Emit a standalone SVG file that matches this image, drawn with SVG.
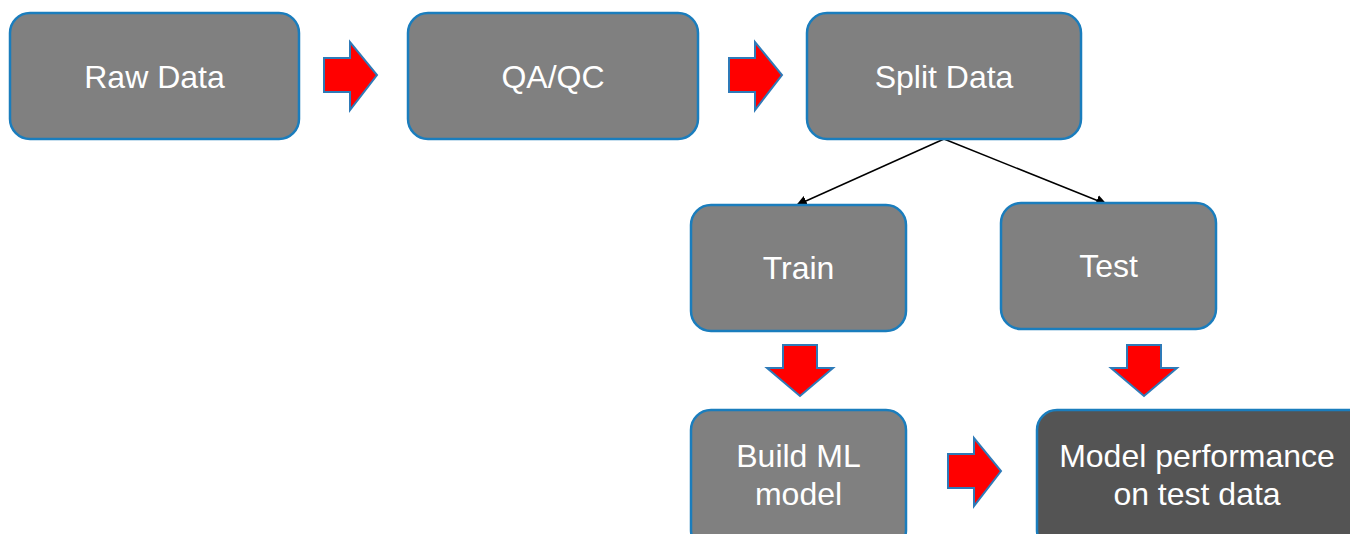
<svg xmlns="http://www.w3.org/2000/svg" width="1350" height="534" viewBox="0 0 1350 534">
  <defs>
    <style>
      .box { fill: #808080; stroke: #1a7dbd; stroke-width: 2.5; }
      .box.dark { fill: #545454; }
      .lbl { font-family: "Liberation Sans", Arial, sans-serif; font-size: 32px; fill: #ffffff; text-anchor: middle; }
      .blk { fill: #ff0000; stroke: #2e7ab8; stroke-width: 2; stroke-linejoin: miter; }
      .link { stroke: #000000; stroke-width: 1.5; fill: none; marker-end: url(#tip); }
    </style>
    <marker id="tip" viewBox="0 0 10 10" refX="9" refY="5" markerWidth="11" markerHeight="11" markerUnits="userSpaceOnUse" orient="auto">
      <path d="M0,0 L10,5 L0,10 z" fill="#000000"/>
    </marker>
    <!-- block arrow pointing right, origin at left of shaft, centred vertically -->
    <path id="blockRight" d="M0,-17 L26,-17 L26,-33 L53,0 L26,35 L26,17 L0,17 z"/>
    <!-- block arrow pointing down, origin at top centre -->
    <path id="blockDown" d="M-17,0 L17,0 L17,23 L33,23 L0,51 L-33,23 L-17,23 z"/>
  </defs>

  <rect width="1350" height="534" fill="#ffffff"/>

  <g id="connectors">
    <line class="link" x1="944" y1="139" x2="797" y2="205"/>
    <line class="link" x1="944" y1="139" x2="1106" y2="204"/>
    <use href="#blockRight" class="blk" x="324" y="75"/>
    <use href="#blockRight" class="blk" x="729" y="75"/>
    <use href="#blockDown" class="blk" x="800" y="345"/>
    <use href="#blockDown" class="blk" x="1144" y="345"/>
    <use href="#blockRight" class="blk" x="948" y="471"/>
  </g>

  <g id="raw-data">
    <rect class="box" x="10" y="13" width="289" height="126" rx="20"/>
    <text class="lbl" x="154.5" y="88">Raw Data</text>
  </g>

  <g id="qa-qc">
    <rect class="box" x="408" y="13" width="290" height="126" rx="20"/>
    <text class="lbl" x="553" y="88">QA/QC</text>
  </g>

  <g id="split-data">
    <rect class="box" x="807" y="13" width="274" height="126" rx="20"/>
    <text class="lbl" x="944" y="88">Split Data</text>
  </g>

  <g id="train">
    <rect class="box" x="691" y="205" width="215" height="126" rx="20"/>
    <text class="lbl" x="798.5" y="279">Train</text>
  </g>

  <g id="test">
    <rect class="box" x="1001" y="203" width="215" height="126" rx="20"/>
    <text class="lbl" x="1108.5" y="277">Test</text>
  </g>

  <g id="build-ml-model">
    <rect class="box" x="691" y="410" width="215" height="140" rx="20"/>
    <text class="lbl" x="798.5" y="467">Build ML</text>
    <text class="lbl" x="798.5" y="505">model</text>
  </g>

  <g id="model-performance">
    <rect class="box dark" x="1037" y="410" width="340" height="140" rx="20"/>
    <text class="lbl" x="1197" y="467">Model performance</text>
    <text class="lbl" x="1197" y="505">on test data</text>
  </g>
</svg>
